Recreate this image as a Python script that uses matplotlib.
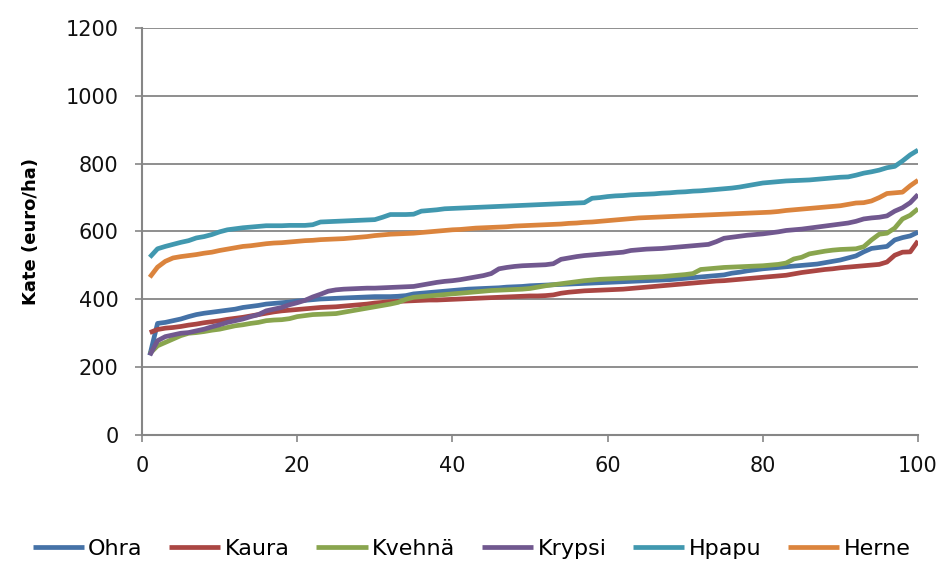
import matplotlib
matplotlib.use("Agg")
import matplotlib.pyplot as plt
import numpy as np

# Gross margin (euro/ha) for each crop, sorted ascending over 100 cases
x = list(range(1, 101))

ohra = [235, 329, 332, 337, 342, 349, 355, 359, 362, 365,
        368, 371, 376, 379, 382, 386, 388, 390, 392, 395,
        397, 399, 401, 402, 403, 404, 405, 406, 407, 408,
        408, 408, 409, 411, 416, 418, 420, 422, 424, 426,
        428, 430, 431, 432, 433, 434, 436, 437, 438, 440,
        441, 442, 443, 444, 445, 446, 447, 448, 449, 450,
        451, 452, 453, 454, 455, 456, 457, 458, 460, 462,
        464, 466, 468, 470, 472, 477, 480, 484, 487, 490,
        492, 494, 496, 498, 500, 502, 504, 508, 512, 516,
        522, 528, 540, 550, 553, 556, 575, 582, 587, 598]

kaura = [302, 311, 315, 317, 320, 324, 327, 331, 334, 337,
         341, 344, 347, 351, 355, 359, 363, 366, 368, 370,
         372, 374, 376, 377, 378, 380, 382, 384, 386, 389,
         391, 393, 394, 395, 396, 397, 398, 398, 399, 400,
         401, 402, 403, 404, 405, 406, 407, 408, 409, 410,
         410, 411, 413, 418, 421, 423, 425, 426, 427, 428,
         429, 430, 432, 434, 436, 438, 440, 442, 444, 446,
         448, 450, 452, 454, 455, 457, 459, 461, 463, 465,
         467, 469, 471, 475, 479, 482, 485, 488, 490, 493,
         495, 497, 499, 501, 503, 510, 530, 539, 540, 572]

kvehna = [240, 263, 273, 283, 293, 300, 302, 305, 309, 312,
          317, 322, 325, 329, 332, 337, 339, 340, 343, 349,
          352, 355, 356, 357, 358, 362, 366, 370, 374, 378,
          382, 386, 391, 400, 406, 408, 410, 412, 414, 416,
          418, 420, 422, 424, 426, 427, 428, 429, 430, 432,
          436, 440, 443, 446, 449, 452, 455, 457, 459, 460,
          461, 462, 463, 464, 465, 466, 467, 469, 471, 473,
          476, 488, 490, 492, 494, 495, 496, 497, 498, 499,
          501, 503, 507, 519, 524, 534, 538, 542, 545, 547,
          548, 549, 555, 575, 592, 595, 610, 637, 648, 667]

krypsi = [235, 278, 290, 295, 300, 302, 307, 312, 319, 325,
          332, 337, 342, 349, 355, 366, 371, 376, 384, 390,
          397, 407, 415, 424, 428, 430, 431, 432, 433, 433,
          434, 435, 436, 437, 438, 442, 446, 450, 453, 455,
          458, 462, 466, 470, 476, 490, 494, 497, 499, 500,
          501, 502, 505, 518, 522, 526, 529, 531, 533, 535,
          537, 539, 544, 546, 548, 549, 550, 552, 554, 556,
          558, 560, 562, 570, 580, 583, 586, 589, 591, 593,
          596, 599, 603, 605, 607, 610, 613, 616, 619, 622,
          625, 630, 637, 640, 642, 646, 660, 670, 685, 709]

hpapu = [524, 549, 556, 562, 568, 573, 581, 585, 591, 599,
         605, 608, 611, 613, 615, 617, 617, 617, 618, 618,
         618, 620, 628, 629, 630, 631, 632, 633, 634, 635,
         642, 650, 650, 650, 651, 660, 662, 664, 667, 668,
         669, 670, 671, 672, 673, 674, 675, 676, 677, 678,
         679, 680, 681, 682, 683, 684, 685, 698, 700, 703,
         705, 706, 708, 709, 710, 711, 713, 714, 716, 717,
         719, 720, 722, 724, 726, 728, 731, 735, 739, 743,
         745, 747, 749, 750, 751, 752, 754, 756, 758, 760,
         761, 766, 772, 776, 781, 788, 792, 808, 826, 840]

herne = [465, 495, 512, 522, 526, 529, 532, 536, 539, 544,
         548, 552, 556, 558, 561, 564, 566, 567, 569, 571,
         573, 574, 576, 577, 578, 579, 581, 583, 585, 588,
         590, 592, 593, 594, 595, 597, 599, 601, 603, 605,
         606, 608, 610, 611, 612, 613, 614, 616, 617, 618,
         619, 620, 621, 622, 624, 625, 627, 628, 630, 632,
         634, 636, 638, 640, 641, 642, 643, 644, 645, 646,
         647, 648, 649, 650, 651, 652, 653, 654, 655, 656,
         657, 659, 662, 664, 666, 668, 670, 672, 674, 676,
         680, 684, 685, 690, 700, 712, 714, 716, 735, 751]

series_names = ["Ohra", "Kaura", "Kvehnä", "Krypsi", "Hpapu", "Herne"]
series_values = [ohra, kaura, kvehna, krypsi, hpapu, herne]
colors = ["#4572A7", "#AA4643", "#89A54E", "#71588F", "#4198AF", "#DB843D"]

x_ticks = [0, 20, 40, 60, 80, 100]
y_ticks = [0, 200, 400, 600, 800, 1000, 1200]

grid_col = "#868686"

fig = plt.figure(figsize=(9.43, 5.61), dpi=100)
ax = fig.add_axes([0.1506, 0.2246, 0.8229, 0.7255])

for name, vals, c in zip(series_names, series_values, colors):
    ax.plot(x, vals, color=c, lw=3.4, label=name, solid_capstyle="butt",
            solid_joinstyle="round")

ax.set_xlim(0, 100)
ax.set_ylim(0, 1200)
ax.set_xticks(x_ticks)
ax.set_yticks(y_ticks)

ax.yaxis.grid(True, color=grid_col, lw=1.3)
ax.set_axisbelow(True)
for s in ["top", "right"]:
    ax.spines[s].set_visible(False)
for s in ["left", "bottom"]:
    ax.spines[s].set_color(grid_col)
    ax.spines[s].set_linewidth(1.5)

ax.tick_params(axis="both", direction="out", length=5, width=1.2,
               color=grid_col, labelsize=15, labelcolor="#111111")
ax.tick_params(axis="y", pad=12)
ax.tick_params(axis="x", pad=10)

ax.set_ylabel("Kate (euro/ha)", fontsize=13, fontweight="bold", labelpad=18)

leg = fig.legend(loc="center", bbox_to_anchor=(0.5, 0.022), ncol=6,
                 frameon=False, handlelength=2.3, handletextpad=0.2,
                 columnspacing=1.2,
                 prop={"family": "DejaVu Sans", "size": 16})

fig.savefig("out.png", dpi=100)
